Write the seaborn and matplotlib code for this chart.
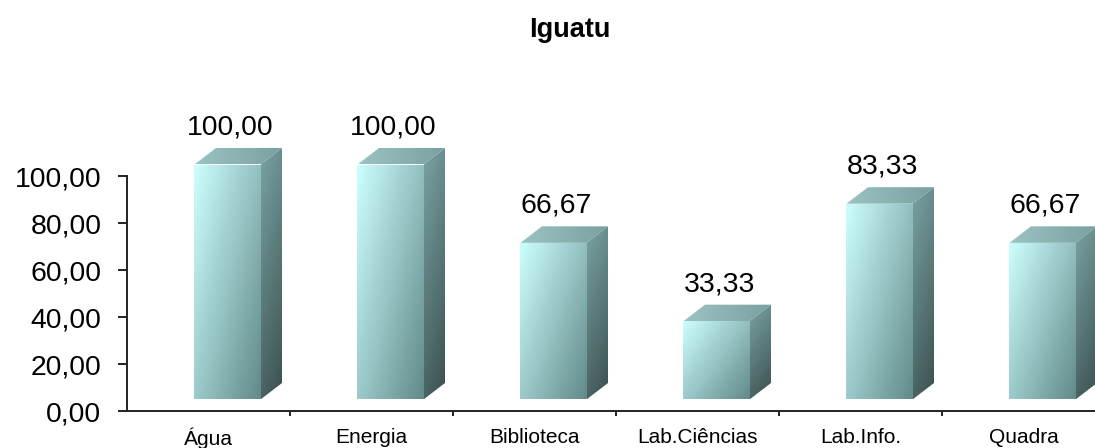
import numpy as np
import pandas as pd
import matplotlib
matplotlib.use("Agg")
import matplotlib.pyplot as plt
import seaborn as sns
from matplotlib.patches import Polygon
from matplotlib.colors import to_rgb

# Data
categorias = ["Água", "Energia", "Biblioteca", "Lab.Ciências", "Lab.Info.", "Quadra"]
valores = [100.00, 100.00, 66.67, 33.33, 83.33, 66.67]
rotulos = ["100,00", "100,00", "66,67", "33,33", "83,33", "66,67"]
yticks = [0, 20, 40, 60, 80, 100]
ytick_rotulos = ["0,00", "20,00", "40,00", "60,00", "80,00", "100,00"]
titulo = "Iguatu"

sns.set_theme(style="white")
plt.rcParams["font.family"] = ["Liberation Sans", "DejaVu Sans"]
plt.rcParams["text.color"] = "black"

W, H, DPI = 1095, 448, 100
fig = plt.figure(figsize=(W / DPI, H / DPI), dpi=DPI)
fig.patch.set_facecolor("white")

# plot frame in pixels (left, right, y of zero, y of 100)
px_l, px_r, px_b, px_t = 127, 1105, 411, 176
ax = fig.add_axes([px_l / W, (H - px_b) / H, (px_r - px_l) / W, (px_b - px_t) / H])
ax.set_facecolor("white")

df = pd.DataFrame({"categoria": categorias, "valor": valores})
sns.barplot(data=df, x="categoria", y="valor", ax=ax, width=0.405,
            color="#a8d8d8", errorbar=None, saturation=1)

ux = (px_r - px_l) / len(categorias)   # pixels per category unit
uy = (px_b - px_t) / 100.0             # pixels per value unit

shift_x = 19 / ux                # front face sits right of the slot centre
shift_y = 11.5 / uy              # and slightly above the floor line
depth_x = 21.5 / ux
depth_y = 16.5 / uy


def gradient(c0, c1, wu, wv, n=64):
    u = np.linspace(0, 1, n)[None, :]
    v = np.linspace(0, 1, n)[:, None]
    t = np.clip(wu * u + wv * v, 0, 1)[..., None]
    a = np.array(to_rgb(c0))[None, None, :]
    b = np.array(to_rgb(c1))[None, None, :]
    return a * (1 - t) + b * t


front_img = gradient("#cdffff", "#628a8a", 0.55, 0.45)
side_img = gradient("#7aa3a3", "#3a4f4f", 0.25, 0.75)
top_img = gradient("#9cc3c3", "#7aa0a0", 1.0, 0.0)

for i, (p, v, lab) in enumerate(zip(ax.patches, valores, rotulos)):
    x0 = p.get_x() + shift_x
    w = p.get_width()
    p.set_x(x0)
    p.set_y(shift_y)
    p.set_facecolor("none")
    p.set_edgecolor("none")
    p.set_clip_on(False)
    x1 = x0 + w
    y0 = shift_y
    y1 = shift_y + v

    # front face
    im = ax.imshow(front_img, extent=[x0, x1, y0, y1], origin="upper",
                   aspect="auto", interpolation="bilinear", zorder=3)
    im.set_clip_path(p)

    # right side face
    side = Polygon([[x1, y0], [x1 + depth_x, y0 + depth_y],
                    [x1 + depth_x, y1 + depth_y], [x1, y1]],
                   closed=True, facecolor="none", edgecolor="none",
                   transform=ax.transData, clip_on=False)
    ax.add_patch(side)
    im = ax.imshow(side_img, extent=[x1, x1 + depth_x, y0, y1 + depth_y],
                   origin="upper", aspect="auto", interpolation="bilinear", zorder=2)
    im.set_clip_box(fig.bbox)
    im.set_clip_path(side)

    # top face
    top = Polygon([[x0, y1], [x1, y1], [x1 + depth_x, y1 + depth_y],
                   [x0 + depth_x, y1 + depth_y]],
                  closed=True, facecolor="none", edgecolor="none",
                  transform=ax.transData, clip_on=False)
    ax.add_patch(top)
    im = ax.imshow(top_img, extent=[x0, x1 + depth_x, y1, y1 + depth_y],
                   origin="upper", aspect="auto", interpolation="bilinear", zorder=2)
    im.set_clip_box(fig.bbox)
    im.set_clip_path(top)

    # value label
    ax.text(i + 22 / ux, y1 + 30 / uy, lab, ha="center", va="baseline",
            fontsize=20.4, color="black", clip_on=False)

ax.set_xlim(-0.5, len(categorias) - 0.5)
ax.set_ylim(0, 100)

ax.set_yticks(yticks)
ax.set_yticklabels(ytick_rotulos, fontsize=20.4)
ax.set_xticks(range(len(categorias)))
ax.set_xticklabels(categorias, fontsize=15)
ax.set_xticks([k + 0.5 for k in range(len(categorias) - 1)], minor=True)

ax.tick_params(axis="y", which="major", direction="out", length=6.5, width=1.4,
               color="#222222", labelcolor="black", pad=12, left=True)
ax.tick_params(axis="x", which="major", length=0, pad=12, labelcolor="black")
ax.tick_params(axis="x", which="minor", direction="out", length=3.6, width=1.4,
               color="#222222", bottom=True)

ax.set_xlabel("")
ax.set_ylabel("")
for s in ["top", "right"]:
    ax.spines[s].set_visible(False)
for s in ["left", "bottom"]:
    ax.spines[s].set_visible(True)
    ax.spines[s].set_color("#222222")
    ax.spines[s].set_linewidth(1.4)
ax.grid(False)

fig.text(569.5 / W, 1 - 37 / H, titulo, ha="center", va="baseline",
         fontsize=19.5, fontweight="bold", color="black")

fig.savefig("out.png", dpi=DPI, facecolor="white")
